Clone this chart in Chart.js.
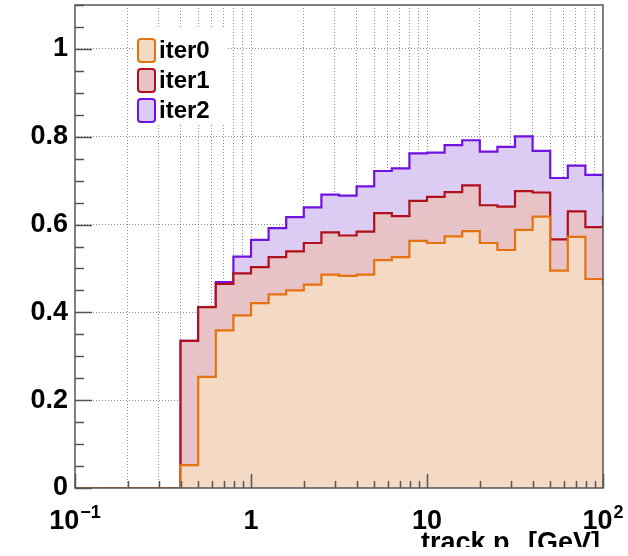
<!DOCTYPE html>
<html>
<head>
<meta charset="utf-8">
<script src="https://cdn.jsdelivr.net/npm/chart.js@4/dist/chart.umd.min.js"></script>
<style>
  html, body { margin: 0; padding: 0; background: #fff; }
  #wrap { width: 628px; height: 556px; position: relative; }
</style>
</head>
<body>
<div id="wrap"><canvas id="eff"></canvas></div>
<script>
// log-spaced binning: 10 bins per decade from 0.1 to 100 GeV
const binsPerDecade = 10;
const edgeLow = 0.1;
const nBins = 30;

// bin contents (one value per bin, lowest bin first) plus the overflow bin
const iter0 = [0, 0, 0, 0, 0, 0, 0.052, 0.253, 0.359, 0.393, 0.421, 0.441, 0.450, 0.463, 0.486,
  0.483, 0.486, 0.519, 0.526, 0.563, 0.558, 0.573, 0.585, 0.558, 0.542, 0.588, 0.618, 0.495, 0.572, 0.476];
const iter1 = [0, 0, 0, 0, 0, 0, 0.335, 0.412, 0.465, 0.489, 0.503, 0.526, 0.539, 0.558, 0.582,
  0.575, 0.584, 0.626, 0.619, 0.654, 0.663, 0.674, 0.689, 0.644, 0.641, 0.676, 0.673, 0.566, 0.630, 0.594];
const iter2 = [0, 0, 0, 0, 0, 0, 0.335, 0.412, 0.469, 0.527, 0.565, 0.592, 0.617, 0.639, 0.668,
  0.666, 0.687, 0.722, 0.728, 0.762, 0.764, 0.781, 0.792, 0.766, 0.777, 0.801, 0.768, 0.706, 0.734, 0.713];
const overflow = [0.460, 0.620, 0.676];

const seriesNames = ["iter0", "iter1", "iter2"];
const lineColors = ["#e3720f", "#b0101a", "#7212e0"];
const fillColors = ["#f4d9c5", "#e7c3c8", "#dccbf2"];

const yTickVals = [0, 0.2, 0.4, 0.6, 0.8, 1.0];
const xLabelVals = [0.1, 1, 10, 100];

const edges = [];
for (let k = 0; k <= nBins; k++) edges.push(edgeLow * Math.pow(10, k / binsPerDecade));

const xGridVals = [];
for (let e = -1; e < 2; e++) {
  for (let m = 1; m <= 9; m++) xGridVals.push(+(m * Math.pow(10, e)).toPrecision(3));
}
xGridVals.push(100);

function histPoints(vals, ovf) {
  const pts = vals.map((v, i) => ({ x: edges[i], y: v }));
  pts.push({ x: edges[nBins], y: ovf });
  return pts;
}

const allSeries = [iter0, iter1, iter2];
const datasets = allSeries.map((vals, i) => ({
  label: seriesNames[i],
  data: histPoints(vals, overflow[i]),
  borderColor: lineColors[i],
  backgroundColor: fillColors[i],
  borderWidth: 2.2,
  fill: "origin",
  stepped: true,
  pointRadius: 0,
  tension: 0,
}));

const FONT = "'Liberation Sans', Arial, sans-serif";
const AXIS = "#555";
const GRID = "rgba(100,100,100,0.75)";

// frame, inward tick marks, axis labels, legend
const decor = {
  id: "decor",
  afterDraw(chart) {
    const ctx = chart.ctx;
    const a = chart.chartArea;
    const xs = chart.scales.x, ys = chart.scales.y;
    ctx.save();

    // ticks on the bottom axis
    ctx.strokeStyle = AXIS;
    ctx.lineWidth = 1.5;
    ctx.beginPath();
    xGridVals.forEach(v => {
      const px = Math.round(xs.getPixelForValue(v)) + 0.5;
      const major = xLabelVals.includes(v);
      ctx.moveTo(px, a.bottom);
      ctx.lineTo(px, a.bottom - (major ? 14 : 7));
    });
    // ticks on the left axis, every 0.05
    for (let k = 0; k <= 22; k++) {
      const v = k * 0.05;
      const py = Math.round(ys.getPixelForValue(v)) + 0.5;
      const major = k % 4 === 0;
      ctx.moveTo(a.left, py);
      ctx.lineTo(a.left + (major ? 17 : 9), py);
    }
    ctx.stroke();

    // frame
    ctx.lineWidth = 1.5;
    ctx.strokeRect(a.left, a.top, a.right - a.left, a.bottom - a.top);

    // x labels with exponents
    ctx.fillStyle = "#000";
    ctx.textBaseline = "alphabetic";
    const base = 529;
    xLabelVals.forEach(v => {
      const px = xs.getPixelForValue(v);
      let main, sup = "";
      if (v === 0.1) { main = "10"; sup = "\u22121"; }
      else if (v === 100) { main = "10"; sup = "2"; }
      else main = String(v);
      ctx.font = "bold 27px " + FONT;
      const wm = ctx.measureText(main).width;
      ctx.font = "bold 18px " + FONT;
      const ws = sup ? ctx.measureText(sup).width + 1 : 0;
      const x0 = px - (wm + ws) / 2;
      ctx.font = "bold 27px " + FONT;
      ctx.textAlign = "left";
      ctx.fillText(main, x0, base);
      if (sup) {
        ctx.font = "bold 18px " + FONT;
        ctx.fillText(sup, x0 + wm + 1, base - 11);
      }
    });

    // x axis title, right aligned at the axis end; the canvas ends below it
    ctx.save();
    ctx.beginPath();
    ctx.rect(0, 500, chart.width, 47);
    ctx.clip();
    const tBase = 551;
    ctx.font = "bold 27px " + FONT;
    const p1 = "track p", p3 = " [GeV]";
    const w3 = ctx.measureText(p3).width;
    ctx.font = "bold 18px " + FONT;
    const w2 = ctx.measureText("T").width;
    ctx.font = "bold 27px " + FONT;
    const w1 = ctx.measureText(p1).width;
    let tx = 600 - (w1 + w2 + w3);
    ctx.fillText(p1, tx, tBase);
    tx += w1;
    ctx.font = "bold 18px " + FONT;
    ctx.fillText("T", tx, tBase + 9);
    tx += w2;
    ctx.font = "bold 27px " + FONT;
    ctx.fillText(p3, tx, tBase);
    ctx.restore();

    // legend
    ctx.fillStyle = "#fff";
    ctx.fillRect(133, 27, 94, 98);
    chart.data.datasets.forEach((ds, i) => {
      const cy = 50 + i * 30;
      ctx.beginPath();
      ctx.roundRect(138, cy - 11, 17, 23, 3);
      ctx.fillStyle = ds.backgroundColor;
      ctx.fill();
      ctx.lineWidth = 2;
      ctx.strokeStyle = ds.borderColor;
      ctx.stroke();
      ctx.fillStyle = "#000";
      ctx.font = "bold 24px " + FONT;
      ctx.textAlign = "left";
      ctx.textBaseline = "middle";
      ctx.fillText(ds.label, 159, cy + 1);
    });
    ctx.restore();
  },
};

new Chart(document.getElementById("eff"), {
  type: "line",
  data: { datasets },
  options: {
    responsive: true,
    maintainAspectRatio: false,
    animation: false,
    layout: { padding: { top: 5, right: 25, left: 0, bottom: 0 } },
    plugins: {
      legend: { display: false },
      tooltip: { enabled: false },
    },
    scales: {
      x: {
        type: "logarithmic",
        min: 0.1,
        max: 100,
        z: 1,
        afterBuildTicks: scale => { scale.ticks = xGridVals.map(v => ({ value: v })); },
        afterFit: scale => { scale.height = 68; scale.paddingLeft = 0; scale.paddingRight = 0; },
        ticks: { display: false },
        grid: {
          drawTicks: false,
          lineWidth: 1,
          color: c => (c.tick && (c.tick.value === 0.1 || c.tick.value === 100)) ? "rgba(0,0,0,0)" : GRID,
        },
        border: { display: false, dash: [1, 2] },
      },
      y: {
        min: 0,
        max: 1.1,
        z: 1,
        afterBuildTicks: scale => { scale.ticks = yTickVals.map(v => ({ value: v })); },
        afterFit: scale => { scale.width = 75; scale.paddingTop = 0; scale.paddingBottom = 0; },
        ticks: {
          color: "#000",
          padding: 7,
          font: { family: FONT, size: 27, weight: "bold" },
          callback: v => String(+v.toFixed(1)),
        },
        grid: {
          drawTicks: false,
          lineWidth: 1,
          color: c => (c.tick && c.tick.value === 0) ? "rgba(0,0,0,0)" : GRID,
        },
        border: { display: false, dash: [1, 2] },
      },
    },
  },
  plugins: [decor],
});
</script>
</body>
</html>
